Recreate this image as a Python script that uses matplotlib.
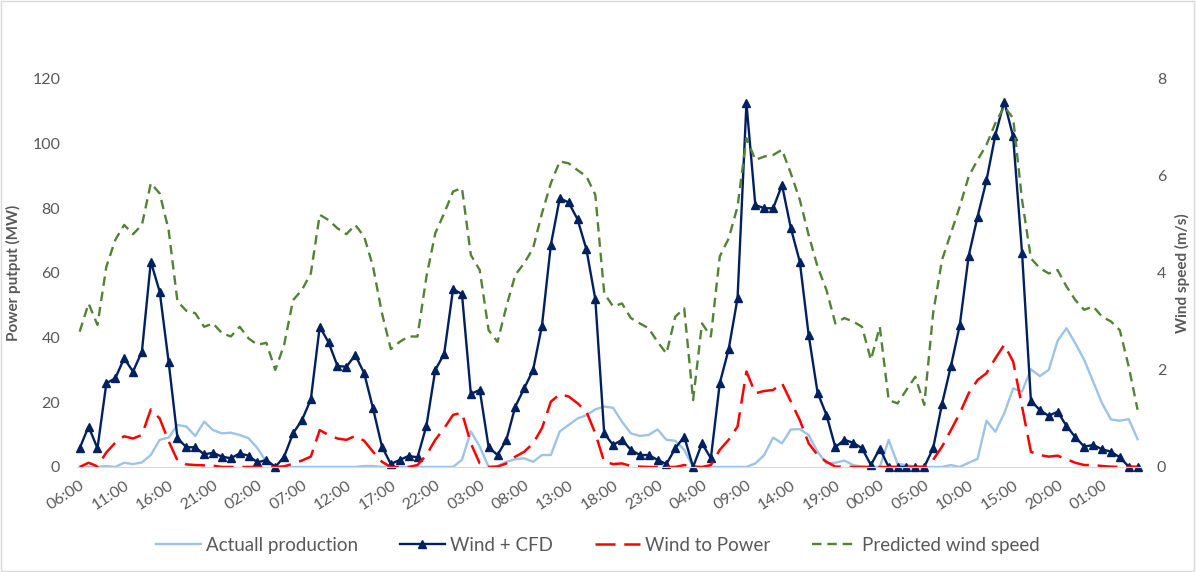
import matplotlib
matplotlib.use("Agg")
import matplotlib.pyplot as plt
from matplotlib.patches import Rectangle

plt.rcParams['font.family'] = ['Lato', 'DejaVu Sans']

# hourly values, 06:00 day 1 -> 05:00 day 6 (120 hours)
actual = [0, 0, 0, 0.3, 0, 1.3, 0.9, 1.4, 3.7, 8.4,
          9.1, 13, 12.5, 9.6, 14, 11.4, 10.4, 10.6, 9.9, 8.9,
          5.8, 1.6, 0, 0, 0, 0, 0, 0, 0, 0,
          0, 0, 0.3, 0.3, 0, 0, 0, 0, 0, 0,
          0, 0, 0, 2.2, 11, 6.3, 0, 0.3, 1.6, 2.4,
          2.7, 1.6, 3.7, 3.7, 11, 13, 15, 16, 17.8, 18.7,
          18.3, 14, 10.4, 9.6, 9.9, 11.6, 8.4, 8.1, 5.3, 0,
          0, 0, 0, 0, 0, 0, 1.1, 3.7, 9.1, 7.3,
          11.6, 11.7, 9.9, 4.7, 1.1, 1.3, 2, 0.6, 0.1, 0,
          0, 8.4, 0.9, 0.6, 0.1, 0, 0, 0, 0.6, 0,
          1.3, 2.5, 14.3, 10.9, 16.6, 24.3, 23.3, 30.2, 28.1, 30,
          39, 42.9, 38.2, 33.1, 26.4, 19.7, 14.7, 14.3, 14.8, 8.6]

wind_cfd = [5.8, 12.5, 5.8, 25.9, 27.4, 33.6, 29.5, 35.7, 63.5, 54.2,
            32.6, 8.9, 6.1, 6.1, 3.9, 4.4, 3.2, 2.7, 4.2, 3.5,
            1.4, 2.2, 0, 3.2, 10.4, 14.5, 20.9, 43.4, 38.5, 31.2,
            31.0, 34.6, 29, 18.1, 6.3, 0.9, 2.2, 3.4, 3.0, 12.7,
            30, 35, 55, 53.5, 22.6, 23.8, 6.1, 3.7, 8.4, 18.7,
            24.3, 30, 43.7, 68.7, 83.1, 81.8, 76.6, 67.3, 51.9, 10.4,
            6.8, 8.4, 5.3, 3.7, 3.7, 2.2, 0.9, 5.8, 9.4, 0,
            7.3, 2.7, 25.9, 36.4, 52.2, 112.5, 81.0, 80, 80, 87.2,
            73.8, 63.5, 40.8, 23, 16.1, 6.1, 8.4, 7.5, 5.8, 0.6,
            5.7, 0, 0, 0, 0, 0, 5.8, 19.5, 31.2, 43.9,
            65.3, 77.4, 88.6, 102.7, 113, 102.2, 66.3, 20.5, 17.6, 15.8,
            17.1, 12.7, 9.2, 6.3, 6.8, 5.5, 4.7, 3.0, 0.1, 0]

wind_power = [0, 1.3, 0.2, 4.5, 7.5, 9.5, 8.8, 9.9, 17.8, 15,
              8, 2, 0.8, 0.6, 0.5, 0.4, 0, 0, 0, 0,
              0, 0, 0, 0.2, 1, 2, 3.2, 11.4, 9.9, 8.8,
              8.4, 9.6, 8.1, 4.7, 1.6, 0, 0, 0, 0.6, 3.7,
              8.4, 12, 16.1, 16.8, 7.3, 1.1, 0, 0.1, 1.1, 3.2,
              4.7, 7.3, 12, 20.2, 22.5, 21.8, 19.7, 17.1, 10.4, 1.6,
              0.9, 1.1, 0.3, 0.1, 0, 0, 0, 0, 0.6, 0.1,
              0, 0.6, 5.3, 8.4, 12.5, 29.5, 22.8, 23.5, 23.8, 25.9,
              20.2, 14.5, 7.3, 3.7, 1.6, 0.1, 0.1, 0, 0, 0,
              0, 0, 0, 0, 0, 0, 2.2, 6.3, 11.4, 16.6,
              22.8, 26.9, 29, 33.6, 37.8, 32.6, 18.7, 4.7, 3.7, 3.2,
              3.5, 2.4, 1.3, 0.6, 0.6, 0.3, 0.1, 0, 0, 0]

wind_speed = [2.79, 3.37, 2.93, 4.13, 4.68, 4.99, 4.80, 4.99, 5.85, 5.64,
              4.89, 3.41, 3.22, 3.17, 2.89, 2.96, 2.76, 2.69, 2.89, 2.65,
              2.52, 2.56, 2.0, 2.52, 3.44, 3.65, 3.99, 5.2, 5.09, 4.92,
              4.80, 4.99, 4.75, 4.13, 3.17, 2.43, 2.58, 2.69, 2.69, 3.92,
              4.82, 5.23, 5.68, 5.75, 4.37, 4.06, 2.82, 2.58, 3.31, 3.96,
              4.2, 4.51, 5.23, 5.85, 6.30, 6.26, 6.12, 5.99, 5.61, 3.58,
              3.31, 3.37, 3.07, 2.96, 2.86, 2.58, 2.34, 3.10, 3.27, 1.38,
              2.96, 2.69, 4.34, 4.71, 5.37, 6.78, 6.33, 6.40, 6.43, 6.54,
              6.05, 5.51, 4.78, 4.13, 3.65, 2.96, 3.07, 3.0, 2.89, 2.21,
              2.89, 1.38, 1.31, 1.59, 1.86, 1.28, 3.17, 4.27, 4.82, 5.37,
              5.99, 6.33, 6.64, 7.09, 7.43, 7.19, 5.51, 4.30, 4.10, 3.99,
              4.06, 3.72, 3.44, 3.24, 3.31, 3.10, 3.0, 2.82, 2.07, 1.18]

tick_labels = ['06:00', '11:00', '16:00', '21:00', '02:00', '07:00', '12:00', '17:00',
               '22:00', '03:00', '08:00', '13:00', '18:00', '23:00', '04:00', '09:00',
               '14:00', '19:00', '00:00', '05:00', '10:00', '15:00', '20:00', '01:00']

x = list(range(len(wind_cfd)))
grey = '#595959'

fig = plt.figure(figsize=(11.96, 5.72), dpi=100)
ax = fig.add_axes([0.0644, 0.1836, 0.889, 0.6784])
ax2 = ax.twinx()

l1, = ax.plot(x, actual, color='#9DC3E6', lw=1.7, label='Actuall production')
l2, = ax.plot(x, wind_cfd, color='#002060', lw=1.7, marker='^', markersize=6,
              label='Wind + CFD', clip_on=False)
l3, = ax.plot(x, wind_power, color='#FF0000', lw=1.8, dashes=(8, 3.5),
              label='Wind to Power')
l4, = ax2.plot(x, wind_speed, color='#548235', lw=1.7, dashes=(4, 2.5),
               label='Predicted wind speed')

ax.set_xlim(-0.3, 119.3)
ax.set_ylim(0, 120)
ax2.set_ylim(0, 8)
ax.set_yticks(range(0, 121, 20))
ax2.set_yticks(range(0, 9, 2))
ax.set_xticks(range(0, len(x), 5))
ax.set_xticklabels(tick_labels, rotation=33, ha='right', rotation_mode='anchor',
                   fontsize=9.5, color=grey)

for a in (ax, ax2):
    for s in a.spines.values():
        s.set_visible(False)
    a.tick_params(length=0, labelsize=11.5, colors=grey)
ax.spines['bottom'].set_visible(True)
ax.spines['bottom'].set_color('#D9D9D9')
ax.tick_params(axis='x', pad=8)
ax.tick_params(axis='y', pad=12)
ax2.tick_params(axis='y', pad=12)

ax.set_ylabel('Power putput (MW)', fontsize=11, fontweight='bold', color=grey, labelpad=8)
ax2.set_ylabel('Wind speed (m/s)', fontsize=11, fontweight='bold', color=grey, labelpad=6)

fig.legend(handles=[l1, l2, l3, l4], loc='center', bbox_to_anchor=(0.5, 0.047),
           ncol=4, frameon=False, fontsize=13.5, labelcolor=grey,
           handlelength=2.4, columnspacing=2.2, handletextpad=0.3)

fig.patches.append(Rectangle((0.001, 0.001), 0.997, 0.997, transform=fig.transFigure,
                             fill=False, edgecolor='#D9D9D9', lw=1))

fig.savefig('out.png', dpi=100)
